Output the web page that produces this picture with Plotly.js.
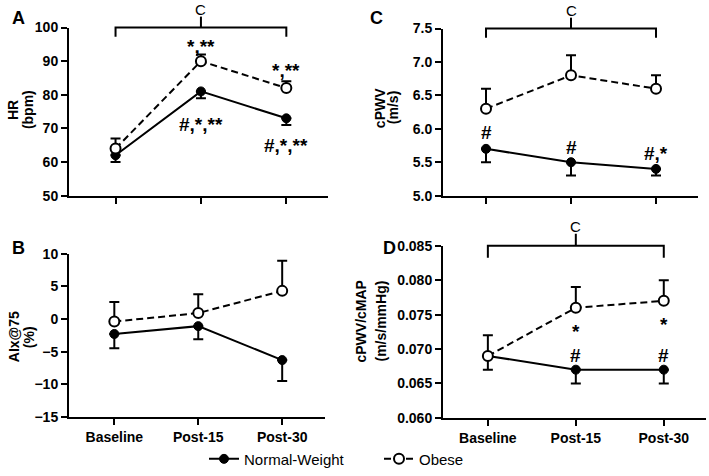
<!DOCTYPE html>
<html>
<head>
<meta charset="utf-8">
<script src="https://cdn.plot.ly/plotly-3.0.1.min.js"></script>
<style>html,body{margin:0;padding:0;background:#fff;}#chart{width:709px;height:476px;}</style>
</head>
<body>
<div id="chart"></div>
<script>
// ---- Data ----
const categories = ["Baseline", "Post-15", "Post-30"];
const seriesNames = ["Normal-Weight", "Obese"];

// Panel A: HR (bpm)
const hrNormal = [62, 81, 73];
const hrNormalErr = [2, 2, 2];
const hrObese = [64, 90, 82];
const hrObeseErr = [3, 2, 2];

// Panel B: AIx@75 (%)
const aixNormal = [-2.3, -1.1, -6.3];
const aixNormalErr = [2.2, 2.0, 3.2];
const aixObese = [-0.4, 0.9, 4.3];
const aixObeseErr = [3.0, 2.9, 4.6];

// Panel C: cPWV (m/s)
const pwvNormal = [5.7, 5.5, 5.4];
const pwvNormalErr = [0.2, 0.2, 0.1];
const pwvObese = [6.3, 6.8, 6.6];
const pwvObeseErr = [0.3, 0.3, 0.2];

// Panel D: cPWV/cMAP (m/s/mmHg)
const ratioNormal = [0.069, 0.067, 0.067];
const ratioNormalErr = [0.002, 0.002, 0.002];
const ratioObese = [0.069, 0.076, 0.077];
const ratioObeseErr = [0.003, 0.003, 0.003];

// Y-axis titles (two lines each)
const yTitles = {
  A: ["HR", "(bpm)"],
  B: ["AIx@75", "(%)"],
  C: ["cPWV", "(m/s)"],
  D: ["cPWV/cMAP", "(m/s/mmHg)"]
};

// Significance labels: [panel axis suffix, category index, y value, text]
const sigLabels = [
  ["", 1, 94.4, "*,**"],
  ["", 2, 87.1, "*,**"],
  ["", 1, 71.2, "#,*,**"],
  ["", 2, 64.8, "#,*,**"],
  ["2", 0, 5.94, "#"],
  ["2", 1, 5.72, "#"],
  ["2", 2, 5.63, "#,*"],
  ["4", 1, 0.0725, "*"],
  ["4", 2, 0.0735, "*"],
  ["4", 1, 0.0690, "#"],
  ["4", 2, 0.0690, "#"]
];

// ---- Styling ----
const FONT = '"Liberation Sans", Arial, sans-serif';
const black = '#000000';
const W = 709, H = 476, ML = 0;
const px = v => (v - ML) / (W - ML);   // horizontal pixel -> paper fraction
const py = v => 1 - v / H;             // vertical pixel -> paper fraction

function normalTrace(y, err, xa, ya, show) {
  return {
    x: categories, y: y, xaxis: xa, yaxis: ya, type: 'scatter', mode: 'lines+markers',
    name: seriesNames[0], showlegend: show, legendgroup: 'n', cliponaxis: false,
    line: {color: black, width: 2, dash: 'solid'},
    marker: {symbol: 'circle', size: 9, color: black, line: {color: black, width: 1}},
    error_y: {type: 'data', symmetric: false, array: [0, 0, 0], arrayminus: err,
              color: black, thickness: 2, width: 5}
  };
}
function obeseTrace(y, err, xa, ya, show) {
  return {
    x: categories, y: y, xaxis: xa, yaxis: ya, type: 'scatter', mode: 'lines+markers',
    name: seriesNames[1], showlegend: show, legendgroup: 'o', cliponaxis: false,
    line: {color: black, width: 2, dash: '7px,4px'},
    marker: {symbol: 'circle', size: 10, color: '#ffffff', line: {color: black, width: 2}},
    error_y: {type: 'data', symmetric: false, array: err, arrayminus: [0, 0, 0],
              color: black, thickness: 2, width: 5}
  };
}

const data = [
  normalTrace(hrNormal, hrNormalErr, 'x', 'y', true),
  obeseTrace(hrObese, hrObeseErr, 'x', 'y', true),
  normalTrace(pwvNormal, pwvNormalErr, 'x2', 'y2', false),
  obeseTrace(pwvObese, pwvObeseErr, 'x2', 'y2', false),
  normalTrace(aixNormal, aixNormalErr, 'x3', 'y3', false),
  obeseTrace(aixObese, aixObeseErr, 'x3', 'y3', false),
  normalTrace(ratioNormal, ratioNormalErr, 'x4', 'y4', false),
  obeseTrace(ratioObese, ratioObeseErr, 'x4', 'y4', false)
];

const tickFont = {family: FONT, size: 14, color: black, weight: 'bold'};
const titleFont = {family: FONT, size: 14, color: black, weight: 'bold'};

function xAxis(domain, range, anchor, showLabels) {
  return {
    domain: domain, range: range, anchor: anchor, type: 'category',
    showline: true, linecolor: black, linewidth: 2, mirror: false,
    ticks: 'outside', ticklen: 6, tickwidth: 2, tickcolor: black,
    showgrid: false, zeroline: false, showticklabels: showLabels,
    tickfont: tickFont, fixedrange: true
  };
}
function yAxis(domain, range, anchor, dtick, fmt) {
  return {
    domain: domain, range: range, anchor: anchor,
    showline: true, linecolor: black, linewidth: 2,
    ticks: 'outside', ticklen: 6, tickwidth: 2, tickcolor: black,
    showgrid: false, zeroline: false, dtick: dtick, tick0: range[0], tickformat: fmt,
    tickfont: tickFont, automargin: false, fixedrange: true
  };
}

const layout = {
  width: W, height: H,
  margin: {l: ML, r: 0, t: 0, b: 0},
  paper_bgcolor: '#ffffff', plot_bgcolor: '#ffffff',
  font: {family: FONT, color: black},
  showlegend: true,
  legend: {orientation: 'h', x: px(204), xanchor: 'left', y: 0.019, yanchor: 'middle',
           font: {family: FONT, size: 15, color: black}, itemwidth: 30, tracegroupgap: 0,
           entrywidth: 130, entrywidthmode: 'pixels',
           bgcolor: 'rgba(0,0,0,0)'},
  xaxis: xAxis([px(69), px(328)], [-0.545, 2.488], 'y', false),
  yaxis: yAxis([py(199), py(28)], [50, 100], 'x', 10, 'd'),
  xaxis2: xAxis([px(443), px(698)], [-0.506, 2.494], 'y2', false),
  yaxis2: yAxis([py(199), py(29)], [5.0, 7.5], 'x2', 0.5, '.1f'),
  xaxis3: xAxis([px(69), px(325)], [-0.54, 2.51], 'y3', true),
  yaxis3: yAxis([py(424), py(258)], [-15, 10], 'x3', 5, 'd'),
  xaxis4: xAxis([px(443), px(706)], [-0.51, 2.48], 'y4', true),
  yaxis4: yAxis([py(425), py(250)], [0.060, 0.085], 'x4', 0.005, '.3f'),
  shapes: [],
  annotations: []
};

// Y-axis title text (rotated), placed beside each axis
const yTitlePos = {A: [13, 28, 112], B: [14, 29, 343], C: [380, 393, 110], D: [361, 381, 327]};
Object.keys(yTitles).forEach(k => {
  const pos = yTitlePos[k];
  yTitles[k].forEach((t, i) => {
    layout.annotations.push({
      text: t, xref: 'paper', yref: 'paper', x: px(pos[i]), y: py(pos[2]),
      xanchor: 'center', yanchor: 'middle', textangle: -90, showarrow: false,
      font: titleFont
    });
  });
});

// Panel letters
const panelLetters = [
  ['A', 18, 18], ['C', 377, 18], ['B', 18, 252], ['D', 389, 252]
];
panelLetters.forEach(p => {
  layout.annotations.push({
    text: p[0], xref: 'paper', yref: 'paper', x: px(p[1]), y: py(p[2]),
    xanchor: 'center', yanchor: 'middle', showarrow: false,
    font: {family: FONT, size: 18, color: black, weight: 'bold'}
  });
});

// Brackets with "C" (x in domain fraction from category index)
function catDomain(i, range) { return (i - range[0]) / (range[1] - range[0]); }
const brackets = [
  ['', layout.xaxis.range, 0.945, 1.0, 1.065],
  ['2', layout.xaxis2.range, 0.945, 1.0, 1.065],
  ['4', layout.xaxis4.range, 0.93, 1.0, 1.07]
];
brackets.forEach(b => {
  const xr = 'x' + b[0] + ' domain', yr = 'y' + b[0] + ' domain';
  const x0 = catDomain(0, b[1]), x1 = catDomain(1, b[1]), x2 = catDomain(2, b[1]);
  const ln = {color: black, width: 2};
  layout.shapes.push(
    {type: 'path', xref: xr, yref: yr,
     path: `M${x0},${b[2]} L${x0},${b[3]} L${x2},${b[3]} L${x2},${b[2]}`, line: ln},
    {type: 'line', xref: xr, yref: yr, x0: x1, x1: x1, y0: b[3], y1: b[4], line: ln}
  );
  layout.annotations.push({
    text: 'C', xref: xr, yref: yr, x: x1, y: b[4], xanchor: 'center', yanchor: 'bottom',
    showarrow: false, yshift: -3, font: {family: FONT, size: 15, color: black}
  });
});

// Significance labels
sigLabels.forEach(s => {
  layout.annotations.push({
    text: s[3], xref: 'x' + s[0], yref: 'y' + s[0], x: categories[s[1]], y: s[2],
    xanchor: 'center', yanchor: 'middle', showarrow: false,
    font: {family: FONT, size: 19, color: black, weight: 'bold'}
  });
});

Plotly.newPlot('chart', data, layout, {displayModeBar: false, staticPlot: true});
</script>
</body>
</html>
